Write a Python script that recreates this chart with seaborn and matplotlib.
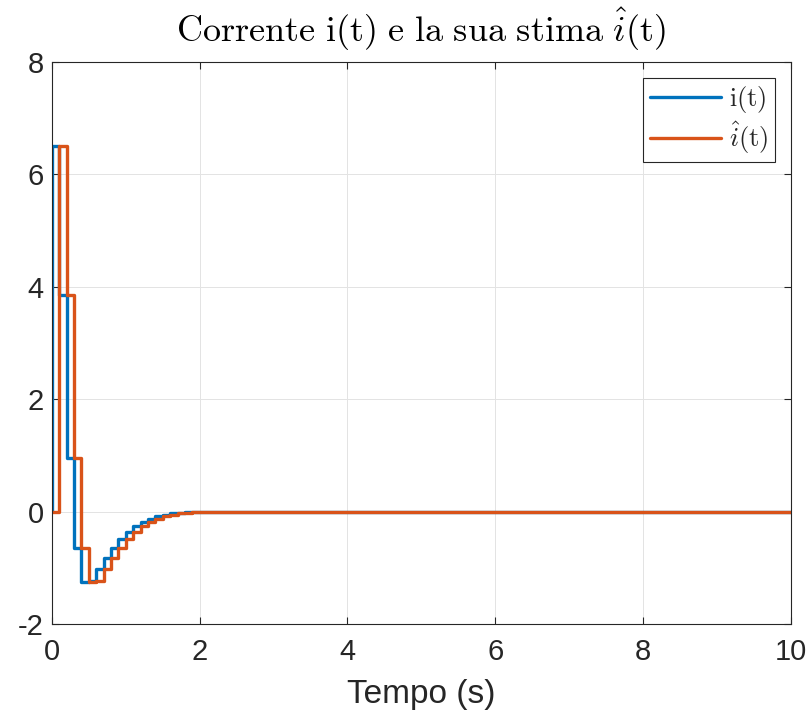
import numpy as np
import pandas as pd
import seaborn as sns
import matplotlib.pyplot as plt

sns.set_theme(style="whitegrid")
plt.rcParams['font.family'] = ['Liberation Sans', 'DejaVu Sans']
plt.rcParams['mathtext.fontset'] = 'cm'
plt.rcParams['axes.unicode_minus'] = False

# campionamento
T = 0.1
t_end = 10

# i(t) ai campioni k*T (poi zero fino a 10 s)
i_samples = [6.5, 3.85, 0.95, -0.65, -1.25, -1.23, -1.02, -0.82, -0.64, -0.49,
             -0.36, -0.26, -0.18, -0.12, -0.08, -0.05, -0.03, -0.015, -0.007, 0.0]
# stima, ritardata di un campione
i_hat_samples = [0.0, 6.5, 3.85, 0.95, -0.65, -1.25, -1.23, -1.02, -0.82, -0.64,
                 -0.49, -0.36, -0.26, -0.18, -0.12, -0.08, -0.05, -0.03, -0.015, -0.007, 0.0]

n = int(round(t_end / T)) + 1
t = np.arange(n) * T
i_full = np.zeros(n)
i_full[:len(i_samples)] = i_samples
i_hat_full = np.zeros(n)
i_hat_full[:len(i_hat_samples)] = i_hat_samples

# i(t) parte da zero a t=0
df_i = pd.DataFrame({'t': np.concatenate([[0.0], t]), 'v': np.concatenate([[0.0], i_full])})
df_hat = pd.DataFrame({'t': t, 'v': i_hat_full})

fig = plt.figure(figsize=(8.11, 7.2), dpi=100)
ax = fig.add_axes([0.064, 0.133, 0.911, 0.781])

sns.lineplot(data=df_i, x='t', y='v', ax=ax, color='#0072BD', linewidth=2.4,
             drawstyle='steps-post', estimator=None, sort=False, label=r'$\mathrm{i(t)}$')
sns.lineplot(data=df_hat, x='t', y='v', ax=ax, color='#D95319', linewidth=2.4,
             drawstyle='steps-post', estimator=None, sort=False, label=r'$\hat{i}\mathrm{(t)}$')

ax.set_xlim(0, 10)
ax.set_ylim(-2, 8)
ax.set_xticks(np.arange(0, 11, 2))
ax.set_yticks(np.arange(-2, 9, 2))
ax.tick_params(axis='both', direction='in', length=5, width=0.8, colors='#262626',
               labelsize=21, top=True, right=True, bottom=True, left=True)
ax.tick_params(axis='x', pad=10)
ax.tick_params(axis='y', pad=6)
ax.set_facecolor('white')
ax.grid(True, color='#E3E3E3', linewidth=0.7)
for s in ax.spines.values():
    s.set_visible(True)
    s.set_color('#262626')
    s.set_linewidth(0.8)

ax.set_xlabel('Tempo (s)', fontsize=24, color='#262626', labelpad=9)
ax.set_ylabel('')
ax.set_title(r'$\mathrm{Corrente\ i(t)\ e\ la\ sua\ stima\ }\hat{i}\mathrm{(t)}$',
             fontsize=26, color='black', pad=14)

leg = ax.legend(loc='upper right', fontsize=19, frameon=True, fancybox=False,
                edgecolor='#262626', framealpha=1, handlelength=2.7, borderpad=0.25,
                labelspacing=0.15, handletextpad=0.3, borderaxespad=0.6)
leg.get_frame().set_linewidth(0.8)

fig.savefig('out.png', dpi=100, facecolor='white')
